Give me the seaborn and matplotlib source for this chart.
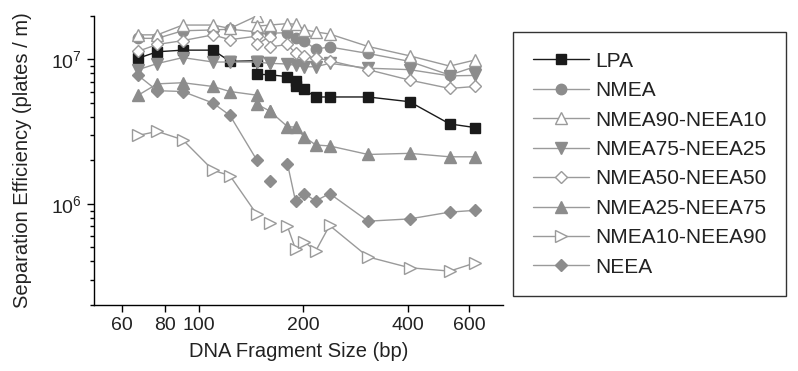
import numpy as np
import pandas as pd
import matplotlib
matplotlib.use("Agg")
import matplotlib.pyplot as plt
from matplotlib.lines import Line2D
from matplotlib.ticker import LogLocator, NullLocator, NullFormatter, FixedLocator, FixedFormatter
import seaborn as sns

# ---------------- data ----------------
sizes = [67, 76, 90, 110, 123, 147, 147, 160, 160, 180, 190, 201, 217, 238, 307, 404, 527, 622]
lpa_sizes = [67, 76, 90, 110, 123, 147, 147, 160, 180, 190, 190, 201, 217, 238, 307, 404, 527, 622]

lpa = [1.02e7, 1.13e7, 1.16e7, 1.16e7, 9.7e6, 9.8e6, 7.9e6, 7.84e6, 7.6e6, 7.1e6, 6.56e6,
       6.2e6, 5.5e6, 5.5e6, 5.5e6, 5.1e6, 3.58e6, 3.38e6]
nmea = [1.4e7, 1.4e7, 1.58e7, 1.6e7, 1.62e7, 1.55e7, 1.5e7, 1.52e7, 1.52e7, 1.53e7, 1.4e7,
        1.34e7, 1.18e7, 1.22e7, 1.1e7, 9.7e6, 7.8e6, 8.9e6]
nmea90 = [1.48e7, 1.48e7, 1.73e7, 1.73e7, 1.64e7, 2.0e7, 1.70e7, 1.73e7, 1.73e7, 1.77e7, 1.75e7,
          1.61e7, 1.55e7, 1.5e7, 1.23e7, 1.06e7, 9.0e6, 9.9e6]
nmea75 = [8.5e6, 9.37e6, 1.03e7, 9.6e6, 9.6e6, 9.6e6, 9.6e6, 9.4e6, 9.4e6, 9.3e6, 9.1e6,
          8.9e6, 8.9e6, 9.4e6, 8.7e6, 8.5e6, 7.7e6, 7.75e6]
nmea50 = [1.14e7, 1.27e7, 1.35e7, 1.48e7, 1.37e7, 1.45e7, 1.27e7, 1.44e7, 1.22e7, 1.27e7, 1.1e7,
          1.05e7, 1.03e7, 9.8e6, 8.5e6, 7.2e6, 6.3e6, 6.5e6]
nmea25 = [5.66e6, 6.78e6, 6.9e6, 6.5e6, 6.0e6, 5.66e6, 4.9e6, 4.4e6, 4.4e6, 3.43e6, 3.4e6,
          2.92e6, 2.56e6, 2.52e6, 2.2e6, 2.24e6, 2.12e6, 2.12e6]
nmea10 = [2.98e6, 3.18e6, 2.78e6, 1.71e6, 1.57e6, 8.46e5, np.nan, 7.38e5, np.nan, 7.0e5, 4.84e5,
          5.49e5, 4.72e5, 7.1e5, 4.3e5, 3.62e5, 3.43e5, 3.9e5]
neea = [7.75e6, 6.08e6, 6.0e6, 4.99e6, 4.1e6, 2.01e6, np.nan, 1.45e6, np.nan, 1.9e6, 1.04e6,
        1.18e6, 1.05e6, 1.18e6, 7.6e5, 7.88e5, 8.78e5, 9.03e5]

series_names = ["LPA", "NMEA", "NMEA90-NEEA10", "NMEA75-NEEA25",
                "NMEA50-NEEA50", "NMEA25-NEEA75", "NMEA10-NEEA90", "NEEA"]
series_x = [lpa_sizes, sizes, sizes, sizes, sizes, sizes, sizes, sizes]
series_y = [lpa, nmea, nmea90, nmea75, nmea50, nmea25, nmea10, neea]

x_ticks = [60, 80, 100, 200, 400, 600]

# ---------------- style ----------------
BLACK = "#1a1a1a"
GREY_LINE = "#9a9a9a"
GREY_FILL = "#8c8c8c"
styles = {
    "LPA":            dict(marker="s", ms=6.5, mfc=BLACK, mec=BLACK, color=BLACK, lw=1.0),
    "NMEA":           dict(marker="o", ms=7.5, mfc=GREY_FILL, mec=GREY_FILL, color=GREY_LINE, lw=1.0),
    "NMEA90-NEEA10":  dict(marker="^", ms=8.5, mfc="white", mec=GREY_LINE, color=GREY_LINE, lw=1.0),
    "NMEA75-NEEA25":  dict(marker="v", ms=8.5, mfc=GREY_FILL, mec=GREY_FILL, color=GREY_LINE, lw=1.0),
    "NMEA50-NEEA50":  dict(marker="D", ms=6.5, mfc="white", mec=GREY_LINE, color=GREY_LINE, lw=1.0),
    "NMEA25-NEEA75":  dict(marker="^", ms=8.5, mfc=GREY_FILL, mec=GREY_FILL, color=GREY_LINE, lw=1.0),
    "NMEA10-NEEA90":  dict(marker=">", ms=8.5, mfc="white", mec=GREY_LINE, color=GREY_LINE, lw=1.0),
    "NEEA":           dict(marker="D", ms=6.5, mfc=GREY_FILL, mec=GREY_FILL, color=GREY_LINE, lw=1.0),
}

sns.set_style("ticks")
plt.rcParams["font.family"] = ["Liberation Sans", "DejaVu Sans"]
plt.rcParams["mathtext.fontset"] = "custom"
plt.rcParams["mathtext.rm"] = "Liberation Sans"
plt.rcParams["axes.linewidth"] = 1.0

fig = plt.figure(figsize=(7.98, 3.71), dpi=100)
ax = fig.add_axes([0.1178, 0.178, 0.5125, 0.779])

for name, xs, ys in zip(series_names, series_x, series_y):
    df = pd.DataFrame({"size": xs, "eff": ys})
    # blank cells break the line (segments)
    df["seg"] = df["eff"].isna().cumsum()
    df = df.dropna()
    st = styles[name]
    sns.lineplot(data=df, x="size", y="eff", units="seg", estimator=None, sort=False,
                 ax=ax, legend=False, color=st["color"], lw=st["lw"],
                 marker=st["marker"], markersize=st["ms"],
                 markerfacecolor=st["mfc"], markeredgecolor=st["mec"],
                 markeredgewidth=1.0)

ax.set_xscale("log")
ax.set_yscale("log")
ax.set_xlim(50, 750)
ax.set_ylim(2e5, 2e7)

ax.xaxis.set_major_locator(FixedLocator(x_ticks))
ax.xaxis.set_major_formatter(FixedFormatter([str(v) for v in x_ticks]))
ax.xaxis.set_minor_locator(NullLocator())
ax.yaxis.set_major_locator(LogLocator(base=10, numticks=10))
ax.yaxis.set_minor_locator(LogLocator(base=10, subs=np.arange(2, 10), numticks=20))
ax.yaxis.set_minor_formatter(NullFormatter())

ax.tick_params(axis="both", which="major", labelsize=14, length=5, width=1, color="black",
               labelcolor="#222222", direction="out")
ax.tick_params(axis="y", which="minor", length=3, width=1, color="black")

for s in ["top", "right"]:
    ax.spines[s].set_visible(False)
for s in ["left", "bottom"]:
    ax.spines[s].set_color("black")

ax.set_xlabel("DNA Fragment Size (bp)", fontsize=14.5, color="#222222", labelpad=6)
ax.set_ylabel("Separation Efficiency (plates / m)", fontsize=14.5, color="#222222", labelpad=14)

handles = []
for name in series_names:
    st = styles[name]
    handles.append(Line2D([], [], color=st["color"], lw=st["lw"], marker=st["marker"],
                          markersize=st["ms"], markerfacecolor=st["mfc"],
                          markeredgecolor=st["mec"], markeredgewidth=1.0))
leg = fig.legend(handles, series_names, loc="upper left",
                 bbox_to_anchor=(513 / 798, 1 - 32 / 371), bbox_transform=fig.transFigure,
                 fontsize=15, frameon=True, fancybox=False, framealpha=1,
                 edgecolor="#333333", handlelength=2.7, handletextpad=0.3,
                 labelspacing=0.5, borderpad=0.95, borderaxespad=0)
leg.get_frame().set_linewidth(1.0)
for t in leg.get_texts():
    t.set_color("#222222")

fig.savefig("out.png", dpi=100)
